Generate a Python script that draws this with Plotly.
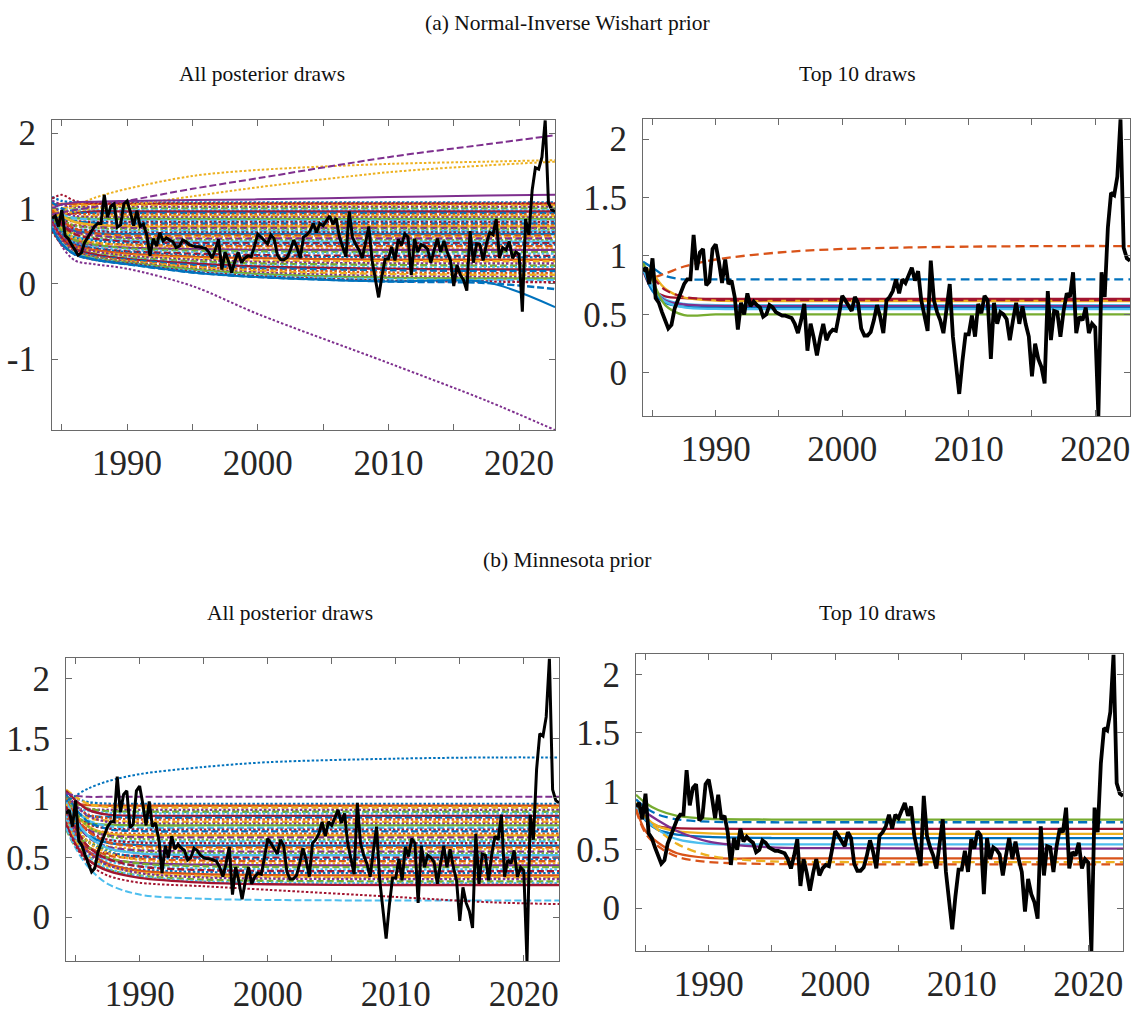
import numpy as np
import plotly.graph_objects as go

W, H = 1134, 1014

# ---------------------------------------------------------------------------
# Observed quarterly series (1984Q2 - 2022Q4)
# ---------------------------------------------------------------------------
first_quarter = 1984.25
quarter_step = 0.25
observed = [
    0.87, 0.90, 0.76, 0.98, 0.64, 0.60, 0.52, 0.45, 0.38, 0.41,
    0.55, 0.62, 0.70, 0.76, 0.80, 0.80, 1.18, 0.88, 1.03, 1.06,
    0.75, 0.78, 1.06, 1.10, 0.95, 0.77, 0.97, 0.76, 0.79, 0.65,
    0.37, 0.60, 0.50, 0.68, 0.57, 0.61, 0.58, 0.56, 0.48, 0.50,
    0.58, 0.56, 0.52, 0.50, 0.49, 0.49, 0.48, 0.47, 0.42, 0.34,
    0.45, 0.59, 0.19, 0.42, 0.30, 0.15, 0.30, 0.42, 0.28, 0.34,
    0.37, 0.36, 0.50, 0.66, 0.62, 0.57, 0.53, 0.65, 0.60, 0.38,
    0.32, 0.32, 0.35, 0.45, 0.58, 0.48, 0.34, 0.62, 0.65, 0.70,
    0.80, 0.68, 0.80, 0.77, 0.84, 0.90, 0.79, 0.87, 0.62, 0.50,
    0.36, 0.96, 0.62, 0.52, 0.45, 0.34, 0.55, 0.76, 0.31, 0.05,
    -0.18, 0.10, 0.33, 0.33, 0.49, 0.31, 0.59, 0.51, 0.66, 0.62,
    0.12, 0.60, 0.42, 0.52, 0.50, 0.46, 0.28, 0.45, 0.60, 0.42,
    0.57, 0.42, 0.31, -0.03, 0.25, 0.12, 0.05, -0.09, 0.70, 0.28,
    0.53, 0.52, 0.31, 0.53, 0.68, 0.65, 0.86, 0.34, 0.48, 0.45,
    0.56, 0.34, 0.42, 0.39, -0.37, 0.86, 0.65, 1.24, 1.54, 1.52,
    1.68, 2.17, 1.07, 0.98, 0.96,
]
quarters = first_quarter + quarter_step * np.arange(len(observed))

# Years at which each posterior-draw path is recorded
knot_years = [1984.25, 1985.0, 1986.0, 1987.5, 1990.0, 1995.0, 2000.0, 2010.0, 2017.5, 2022.75]

# ---------------------------------------------------------------------------
# (a) Normal-Inverse Wishart prior: all posterior draws
# ---------------------------------------------------------------------------
niw_all_band = [
    [1.15, 1.10, 1.08, 1.08, 1.08, 1.08, 1.08, 1.08, 1.08, 1.08],
    [1.05, 1.06, 1.06, 1.06, 1.06, 1.06, 1.06, 1.06, 1.06, 1.06],
    [0.95, 1.00, 1.03, 1.04, 1.04, 1.04, 1.04, 1.04, 1.04, 1.04],
    [1.10, 1.05, 1.02, 1.02, 1.02, 1.02, 1.02, 1.02, 1.02, 1.02],
    [0.90, 0.95, 0.99, 1.00, 1.00, 1.00, 1.00, 1.00, 1.00, 1.00],
    [1.00, 0.99, 0.98, 0.98, 0.98, 0.98, 0.98, 0.98, 0.98, 0.98],
    [0.85, 0.90, 0.94, 0.96, 0.96, 0.96, 0.96, 0.96, 0.96, 0.96],
    [1.08, 1.00, 0.95, 0.94, 0.94, 0.94, 0.94, 0.94, 0.94, 0.94],
    [0.95, 0.94, 0.93, 0.92, 0.92, 0.92, 0.92, 0.92, 0.92, 0.92],
    [0.80, 0.85, 0.88, 0.90, 0.90, 0.90, 0.90, 0.90, 0.90, 0.90],
    [1.02, 0.95, 0.90, 0.88, 0.88, 0.88, 0.88, 0.88, 0.88, 0.88],
    [0.90, 0.88, 0.87, 0.86, 0.86, 0.86, 0.86, 0.86, 0.86, 0.86],
    [0.98, 0.92, 0.87, 0.85, 0.84, 0.84, 0.84, 0.84, 0.84, 0.84],
    [0.85, 0.84, 0.83, 0.82, 0.82, 0.82, 0.82, 0.82, 0.82, 0.82],
    [0.92, 0.87, 0.83, 0.81, 0.80, 0.80, 0.80, 0.80, 0.80, 0.80],
    [0.80, 0.79, 0.78, 0.78, 0.78, 0.78, 0.78, 0.78, 0.78, 0.78],
    [1.00, 0.90, 0.82, 0.78, 0.76, 0.76, 0.76, 0.76, 0.76, 0.76],
    [0.88, 0.82, 0.77, 0.75, 0.74, 0.74, 0.74, 0.74, 0.74, 0.74],
    [0.95, 0.85, 0.77, 0.74, 0.72, 0.72, 0.72, 0.72, 0.72, 0.72],
    [0.82, 0.77, 0.73, 0.71, 0.70, 0.70, 0.70, 0.70, 0.70, 0.70],
    [0.90, 0.80, 0.73, 0.70, 0.68, 0.68, 0.68, 0.68, 0.68, 0.68],
    [0.85, 0.76, 0.70, 0.67, 0.66, 0.66, 0.66, 0.66, 0.66, 0.66],
    [0.98, 0.84, 0.73, 0.67, 0.64, 0.64, 0.64, 0.64, 0.64, 0.64],
    [0.80, 0.72, 0.67, 0.64, 0.62, 0.62, 0.62, 0.62, 0.62, 0.62],
    [0.92, 0.79, 0.69, 0.64, 0.61, 0.60, 0.60, 0.60, 0.60, 0.60],
    [0.86, 0.74, 0.65, 0.61, 0.59, 0.58, 0.58, 0.58, 0.58, 0.58],
    [0.78, 0.68, 0.62, 0.59, 0.57, 0.56, 0.56, 0.56, 0.56, 0.56],
    [0.94, 0.78, 0.66, 0.60, 0.56, 0.54, 0.54, 0.54, 0.54, 0.54],
    [0.84, 0.70, 0.61, 0.57, 0.54, 0.52, 0.52, 0.52, 0.52, 0.52],
    [0.80, 0.66, 0.58, 0.54, 0.52, 0.50, 0.50, 0.50, 0.50, 0.50],
    [0.90, 0.73, 0.61, 0.55, 0.51, 0.48, 0.47, 0.47, 0.47, 0.47],
    [0.76, 0.62, 0.55, 0.51, 0.48, 0.46, 0.45, 0.45, 0.45, 0.45],
    [0.88, 0.70, 0.58, 0.52, 0.47, 0.44, 0.43, 0.42, 0.42, 0.42],
    [0.82, 0.65, 0.54, 0.49, 0.45, 0.42, 0.41, 0.40, 0.40, 0.40],
    [0.78, 0.62, 0.52, 0.47, 0.43, 0.40, 0.38, 0.37, 0.37, 0.37],
    [0.86, 0.66, 0.53, 0.47, 0.42, 0.38, 0.36, 0.35, 0.35, 0.35],
    [0.80, 0.62, 0.50, 0.45, 0.40, 0.36, 0.34, 0.32, 0.32, 0.32],
    [0.75, 0.58, 0.48, 0.43, 0.38, 0.34, 0.31, 0.30, 0.30, 0.30],
    [0.84, 0.63, 0.49, 0.43, 0.37, 0.32, 0.29, 0.27, 0.27, 0.27],
    [0.78, 0.59, 0.46, 0.40, 0.35, 0.30, 0.27, 0.25, 0.24, 0.24],
    [0.72, 0.55, 0.45, 0.39, 0.34, 0.28, 0.25, 0.22, 0.22, 0.22],
    [0.82, 0.60, 0.46, 0.39, 0.33, 0.27, 0.23, 0.20, 0.19, 0.19],
    [0.76, 0.57, 0.44, 0.37, 0.32, 0.25, 0.21, 0.18, 0.17, 0.17],
    [0.80, 0.58, 0.44, 0.36, 0.31, 0.23, 0.19, 0.15, 0.14, 0.14],
    [0.74, 0.55, 0.42, 0.35, 0.30, 0.22, 0.17, 0.13, 0.12, 0.12],
    [0.78, 0.56, 0.42, 0.35, 0.29, 0.20, 0.15, 0.10, 0.09, 0.09],
    [0.72, 0.53, 0.40, 0.34, 0.28, 0.19, 0.13, 0.08, 0.07, 0.07],
    [0.76, 0.54, 0.40, 0.33, 0.27, 0.17, 0.11, 0.06, 0.05, 0.05],
    [0.70, 0.52, 0.39, 0.32, 0.27, 0.16, 0.10, 0.04, 0.03, 0.02],
    [0.74, 0.53, 0.39, 0.32, 0.26, 0.15, 0.09, 0.03, 0.01, -0.07],
]
niw_all_outliers = [
    [1.13, 1.18, 1.10, 1.07, 1.07, 1.07, 1.07, 1.07, 1.07, 1.07],
    [0.92, 0.96, 1.03, 1.14, 1.26, 1.43, 1.51, 1.59, 1.62, 1.64],
    [0.88, 0.92, 0.96, 1.00, 1.04, 1.16, 1.28, 1.48, 1.57, 1.62],
    [0.92, 0.95, 0.98, 1.02, 1.10, 1.26, 1.40, 1.68, 1.85, 1.97],
    [0.80, 0.50, 0.31, 0.26, 0.20, -0.03, -0.40, -1.05, -1.55, -1.94],
    [1.00, 1.05, 1.08, 1.09, 1.10, 1.11, 1.12, 1.15, 1.17, 1.18],
    [0.74, 0.53, 0.39, 0.32, 0.26, 0.15, 0.09, 0.03, 0.02, -0.31],
]
niw_all_outlier_style = [
    ("#A2142F", "dot"), ("#EDB120", "dot"), ("#EDB120", "dot"),
    ("#7E2F8E", "dash"), ("#7E2F8E", "dot"), ("#7E2F8E", "solid"),
    ("#0072BD", "solid"),
]

# ---------------------------------------------------------------------------
# (a) Normal-Inverse Wishart prior: top 10 draws
# ---------------------------------------------------------------------------
niw_top = [
    [0.95, 0.90, 0.83, 0.80, 0.80, 0.80, 0.80, 0.80, 0.80, 0.80],
    [0.88, 0.82, 0.85, 0.91, 0.97, 1.03, 1.06, 1.08, 1.085, 1.085],
    [0.88, 0.71, 0.655, 0.64, 0.633, 0.633, 0.633, 0.633, 0.633, 0.633],
    [0.92, 0.85, 0.72, 0.645, 0.618, 0.615, 0.615, 0.615, 0.615, 0.615],
    [0.90, 0.82, 0.71, 0.65, 0.625, 0.622, 0.622, 0.622, 0.622, 0.622],
    [0.90, 0.74, 0.63, 0.59, 0.58, 0.58, 0.58, 0.58, 0.58, 0.58],
    [0.88, 0.72, 0.62, 0.585, 0.572, 0.57, 0.57, 0.57, 0.57, 0.57],
    [0.90, 0.70, 0.60, 0.565, 0.556, 0.555, 0.555, 0.555, 0.555, 0.555],
    [0.89, 0.73, 0.61, 0.56, 0.547, 0.545, 0.545, 0.545, 0.545, 0.545],
    [0.94, 0.79, 0.58, 0.495, 0.50, 0.50, 0.50, 0.50, 0.50, 0.50],
]
niw_top_style = [
    ("#0072BD", "dash"), ("#D95319", "dash"), ("#A2142F", "solid"),
    ("#EDB120", "solid"), ("#A2142F", "dash"), ("#4DBEEE", "solid"),
    ("#7E2F8E", "solid"), ("#0072BD", "solid"), ("#4DBEEE", "solid"),
    ("#77AC30", "solid"),
]

# ---------------------------------------------------------------------------
# (b) Minnesota prior: all posterior draws
# ---------------------------------------------------------------------------
mn_all_band = [
    [1.05, 1.00, 0.965, 0.952, 0.95, 0.95, 0.95, 0.95, 0.95, 0.95],
    [0.96, 0.95, 0.94, 0.935, 0.935, 0.935, 0.935, 0.935, 0.935, 0.935],
    [1.07, 1.01, 0.95, 0.925, 0.92, 0.92, 0.92, 0.92, 0.92, 0.92],
    [0.92, 0.91, 0.905, 0.90, 0.90, 0.90, 0.90, 0.90, 0.90, 0.90],
    [1.02, 0.96, 0.91, 0.89, 0.885, 0.885, 0.885, 0.885, 0.885, 0.885],
    [0.95, 0.92, 0.89, 0.875, 0.87, 0.87, 0.87, 0.87, 0.87, 0.87],
    [1.06, 0.98, 0.90, 0.86, 0.85, 0.85, 0.85, 0.85, 0.85, 0.85],
    [0.90, 0.87, 0.85, 0.84, 0.835, 0.835, 0.835, 0.835, 0.835, 0.835],
    [1.00, 0.93, 0.86, 0.83, 0.82, 0.82, 0.82, 0.82, 0.82, 0.82],
    [0.94, 0.88, 0.83, 0.81, 0.80, 0.80, 0.80, 0.80, 0.80, 0.80],
    [1.04, 0.94, 0.85, 0.80, 0.785, 0.785, 0.785, 0.785, 0.785, 0.785],
    [0.88, 0.83, 0.79, 0.775, 0.77, 0.77, 0.77, 0.77, 0.77, 0.77],
    [0.98, 0.89, 0.81, 0.765, 0.75, 0.75, 0.75, 0.75, 0.75, 0.75],
    [0.92, 0.85, 0.78, 0.745, 0.735, 0.735, 0.735, 0.735, 0.735, 0.735],
    [1.03, 0.91, 0.80, 0.74, 0.722, 0.72, 0.72, 0.72, 0.72, 0.72],
    [0.86, 0.79, 0.74, 0.71, 0.70, 0.70, 0.70, 0.70, 0.70, 0.70],
    [0.97, 0.86, 0.76, 0.70, 0.687, 0.685, 0.685, 0.685, 0.685, 0.685],
    [0.90, 0.81, 0.73, 0.685, 0.672, 0.67, 0.67, 0.67, 0.67, 0.67],
    [1.01, 0.88, 0.76, 0.68, 0.655, 0.65, 0.65, 0.65, 0.65, 0.65],
    [0.84, 0.76, 0.69, 0.65, 0.637, 0.635, 0.635, 0.635, 0.635, 0.635],
    [0.95, 0.83, 0.72, 0.65, 0.625, 0.62, 0.62, 0.62, 0.62, 0.62],
    [0.88, 0.78, 0.68, 0.625, 0.605, 0.60, 0.60, 0.60, 0.60, 0.60],
    [0.99, 0.85, 0.72, 0.63, 0.595, 0.586, 0.585, 0.585, 0.585, 0.585],
    [0.82, 0.72, 0.64, 0.595, 0.577, 0.571, 0.57, 0.57, 0.57, 0.57],
    [0.93, 0.80, 0.67, 0.59, 0.56, 0.552, 0.55, 0.55, 0.55, 0.55],
    [0.86, 0.74, 0.63, 0.57, 0.545, 0.537, 0.535, 0.535, 0.535, 0.535],
    [0.97, 0.82, 0.68, 0.58, 0.535, 0.522, 0.52, 0.52, 0.52, 0.52],
    [0.80, 0.68, 0.58, 0.535, 0.512, 0.502, 0.50, 0.50, 0.50, 0.50],
    [0.91, 0.76, 0.63, 0.55, 0.505, 0.49, 0.486, 0.485, 0.485, 0.485],
    [0.84, 0.70, 0.59, 0.52, 0.49, 0.475, 0.471, 0.47, 0.47, 0.47],
    [0.95, 0.78, 0.63, 0.54, 0.48, 0.457, 0.452, 0.45, 0.45, 0.45],
    [0.78, 0.65, 0.55, 0.49, 0.455, 0.44, 0.436, 0.435, 0.435, 0.435],
    [0.89, 0.73, 0.59, 0.50, 0.45, 0.427, 0.422, 0.42, 0.42, 0.42],
    [0.82, 0.67, 0.55, 0.47, 0.43, 0.408, 0.402, 0.40, 0.40, 0.40],
    [0.93, 0.75, 0.59, 0.49, 0.425, 0.395, 0.388, 0.385, 0.385, 0.385],
    [0.76, 0.62, 0.51, 0.44, 0.40, 0.378, 0.372, 0.37, 0.37, 0.37],
    [0.87, 0.70, 0.55, 0.45, 0.39, 0.36, 0.353, 0.35, 0.35, 0.35],
    [0.80, 0.64, 0.51, 0.43, 0.375, 0.345, 0.338, 0.335, 0.335, 0.335],
    [0.90, 0.71, 0.54, 0.44, 0.37, 0.333, 0.324, 0.32, 0.32, 0.32],
    [0.74, 0.59, 0.48, 0.40, 0.35, 0.315, 0.305, 0.30, 0.30, 0.30],
    [0.85, 0.67, 0.51, 0.41, 0.345, 0.30, 0.29, 0.285, 0.285, 0.285],
    [0.78, 0.61, 0.48, 0.39, 0.33, 0.29, 0.276, 0.27, 0.27, 0.27],
]
mn_all_outliers = [
    [0.97, 1.02, 1.08, 1.14, 1.20, 1.26, 1.30, 1.33, 1.34, 1.34],
    [1.04, 1.02, 1.01, 1.01, 1.01, 1.01, 1.01, 1.01, 1.01, 1.01],
    [0.75, 0.58, 0.42, 0.28, 0.19, 0.155, 0.145, 0.14, 0.14, 0.14],
    [0.80, 0.60, 0.45, 0.35, 0.29, 0.26, 0.23, 0.17, 0.125, 0.11],
]
mn_all_outlier_style = [
    ("#0072BD", "dot"), ("#7E2F8E", "dash"), ("#4DBEEE", "dash"), ("#A2142F", "dot"),
]

# ---------------------------------------------------------------------------
# (b) Minnesota prior: top 10 draws
# ---------------------------------------------------------------------------
mn_top = [
    [0.97, 0.90, 0.84, 0.79, 0.765, 0.758, 0.758, 0.758, 0.758, 0.758],
    [0.93, 0.86, 0.80, 0.76, 0.74, 0.735, 0.735, 0.735, 0.735, 0.735],
    [0.88, 0.76, 0.70, 0.685, 0.68, 0.678, 0.678, 0.678, 0.678, 0.678],
    [0.90, 0.78, 0.70, 0.66, 0.64, 0.635, 0.635, 0.635, 0.635, 0.635],
    [0.88, 0.75, 0.67, 0.63, 0.61, 0.60, 0.60, 0.60, 0.60, 0.60],
    [0.86, 0.76, 0.67, 0.59, 0.55, 0.545, 0.545, 0.545, 0.545, 0.545],
    [0.88, 0.82, 0.75, 0.66, 0.57, 0.52, 0.513, 0.51, 0.51, 0.51],
    [0.85, 0.66, 0.56, 0.47, 0.43, 0.426, 0.426, 0.426, 0.426, 0.426],
    [0.90, 0.78, 0.67, 0.55, 0.45, 0.40, 0.395, 0.394, 0.394, 0.394],
    [0.84, 0.64, 0.53, 0.44, 0.395, 0.378, 0.375, 0.375, 0.375, 0.375],
]
mn_top_style = [
    ("#77AC30", "solid"), ("#0072BD", "dash"), ("#A2142F", "solid"),
    ("#EDB120", "solid"), ("#0072BD", "solid"), ("#4DBEEE", "solid"),
    ("#7E2F8E", "solid"), ("#D95319", "solid"), ("#EDB120", "dash"),
    ("#D95319", "dash"),
]

# ---------------------------------------------------------------------------
# Styling
# ---------------------------------------------------------------------------
line_colors = ["#0072BD", "#D95319", "#EDB120", "#7E2F8E", "#77AC30", "#4DBEEE", "#A2142F"]
band_styles = ["dot", "solid", "dash", "dot", "dash"]
dash_pattern = {"solid": "solid", "dot": "2px,3px", "dash": "9px,5px"}
band_dash_pattern = {"solid": "solid", "dot": "2.5px,2px", "dash": "7px,3px"}

serif = "Liberation Serif"
frame_color = "#6a6a6a"

# panel boxes in pixels: (left, right, top, bottom)
panels = {
    "tl": dict(box=(52, 555, 115, 427), yrange=(-1.94, 2.17), yticks=[-1, 0, 1, 2]),
    "tr": dict(box=(643, 1130, 114, 413), yrange=(-0.37, 2.17), yticks=[0, 0.5, 1, 1.5, 2]),
    "bl": dict(box=(66, 559, 657, 962), yrange=(-0.37, 2.17), yticks=[0, 0.5, 1, 1.5, 2]),
    "br": dict(box=(636, 1123, 653, 952), yrange=(-0.37, 2.17), yticks=[0, 0.5, 1, 1.5, 2]),
}
axis_ids = {"tl": "", "tr": "2", "bl": "3", "br": "4"}

x_tickvals = [1985, 1990, 1995, 2000, 2005, 2010, 2015, 2020]
x_ticktext = ["", "1990", "", "2000", "", "2010", "", "2020"]


def tick_label(v):
    return str(int(v)) if float(v).is_integer() else f"{v:g}"


fig = go.Figure()


def add_path(panel, values, color, dash, width, smooth=0.9):
    n = axis_ids[panel]
    fig.add_trace(go.Scatter(
        x=knot_years, y=values, mode="lines",
        line=dict(color=color, dash=dash, width=width, shape="spline", smoothing=smooth),
        xaxis="x" + n, yaxis="y" + n, showlegend=False, hoverinfo="skip",
    ))


def add_observed(panel, width):
    n = axis_ids[panel]
    fig.add_trace(go.Scatter(
        x=quarters, y=observed, mode="lines",
        line=dict(color="black", width=width),
        xaxis="x" + n, yaxis="y" + n, showlegend=False,
    ))


# all-draws panels: a dense band of paths plus the stray ones
for panel, band, extra, extra_style in [
    ("tl", niw_all_band, niw_all_outliers, niw_all_outlier_style),
    ("bl", mn_all_band, mn_all_outliers, mn_all_outlier_style),
]:
    for k, row in enumerate(band):
        style = band_styles[k % len(band_styles)]
        add_path(panel, row, line_colors[k % len(line_colors)], band_dash_pattern[style], 2.4)
    for row, (c, s) in zip(extra, extra_style):
        add_path(panel, row, c, band_dash_pattern[s], 2.0)
    add_observed(panel, 3.0)

# top-10 panels
for panel, rows, styles in [("tr", niw_top, niw_top_style), ("br", mn_top, mn_top_style)]:
    for row, (c, s) in zip(rows, styles):
        add_path(panel, row, c, dash_pattern[s], 2.3)
    add_observed(panel, 3.8)

layout = dict(
    width=W, height=H, margin=dict(l=0, r=0, t=0, b=0),
    paper_bgcolor="white", plot_bgcolor="white", showlegend=False,
)
for panel, spec in panels.items():
    n = axis_ids[panel]
    left, right, top, bottom = spec["box"]
    common = dict(
        showline=True, linecolor=frame_color, linewidth=1, mirror="ticks",
        ticks="inside", ticklen=6, tickwidth=1, tickcolor=frame_color,
        showgrid=False, zeroline=False,
        tickfont=dict(family=serif, size=35, color="#262626"),
    )
    layout["xaxis" + n] = dict(
        common, domain=[left / W, right / W], range=[knot_years[0], knot_years[-1]],
        tickvals=x_tickvals, ticktext=x_ticktext, anchor="y" + n,
        ticklabelstandoff=2,
    )
    layout["yaxis" + n] = dict(
        common, domain=[1 - bottom / H, 1 - top / H], range=list(spec["yrange"]),
        tickvals=spec["yticks"], ticktext=[tick_label(v) for v in spec["yticks"]],
        anchor="x" + n, ticklabelstandoff=8,
    )

titles = [
    ("(a) Normal-Inverse Wishart prior", 567, 17),
    ("All posterior draws", 262, 68),
    ("Top 10 draws", 857, 68),
    ("(b) Minnesota prior", 567, 558),
    ("All posterior draws", 290, 611),
    ("Top 10 draws", 877, 611),
]
layout["annotations"] = [
    dict(text=t, x=x / W, y=1 - y / H, xref="paper", yref="paper",
         xanchor="center", yanchor="middle", showarrow=False,
         font=dict(family=serif, size=21.5, color="#111111"))
    for t, x, y in titles
]

fig.update_layout(**layout)
fig.write_html("out.html")
